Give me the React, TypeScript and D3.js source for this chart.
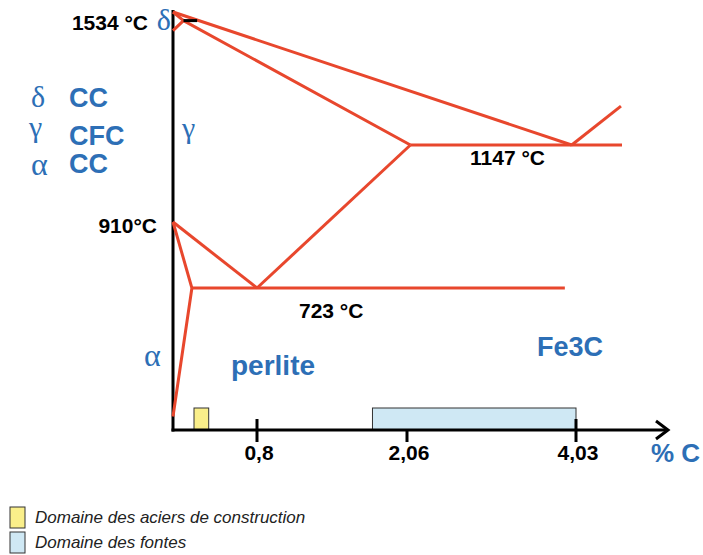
import * as React from 'react';
import * as d3 from 'd3';

// schematic Fe-C diagram ([%C, °C])
const tickValues = [0.8, 2.06, 4.03];
const tickLabels = ['0,8', '2,06', '4,03'];

const liquidus = [[0, 1534], [3.98, 1147]];
const deltaSolidus = [[0, 1534], [0.1, 1509]];
const gammaSolidus = [[0, 1480], [0.1, 1509], [2.1, 1147]];
const peritectic = [[0.1, 1509], [0.23, 1509]];
const eutectic = [[2.1, 1147], [5.35, 1147]];
const cementiteLiquidus = [[3.98, 1147], [5.32, 1260]];
const acm = [[2.1, 1147], [0.8, 723]];
const a3 = [[0, 910], [0.8, 723]];
const alphaBoundary = [[0, 910], [0.18, 723], [0, 340]];
const eutectoid = [[0.18, 723], [3.9, 723]];

const redLines = [liquidus, deltaSolidus, gammaSolidus, eutectic, cementiteLiquidus, acm, a3, alphaBoundary, eutectoid];

const steelDomain = [0.2, 0.34];
const castIronDomain = [1.77, 4.03];

const legendItems = ['Domaine des aciers de construction', 'Domaine des fontes'];

const red = '#e8472d';
const blue = '#2d6fb6';
const sans = '"Liberation Sans", Arial, sans-serif';
const serif = '"Liberation Serif", "Times New Roman", serif';

export default function App() {
  const width = 703;
  const height = 555;

  // piecewise scales: the diagram is not drawn to scale
  const x = d3.scaleLinear().domain([0, 0.8, 2.06, 4.03, 6.67]).range([173, 257, 407, 576, 668]);
  const y = d3.scaleLinear().domain([1534, 1147, 910, 723, 300]).range([12, 145, 222, 288, 430]);

  const line = d3.line<number[]>().x(d => x(d[0])).y(d => y(d[1]));

  const x0 = x(0);
  const yBase = y(300);
  const boxTop = yBase - 22;

  const bold = (size: number) => ({ fontFamily: sans, fontWeight: 700, fontSize: size });
  const greek = (size: number) => ({ fontFamily: serif, fontSize: size });

  return <div style={{ position: 'absolute', left: 0, top: 0 }}>
    <svg width={width} height={height}>
      {/* domains */}
      <rect x={x(steelDomain[0])} y={boxTop} width={x(steelDomain[1]) - x(steelDomain[0])} height={yBase - boxTop}
        fill="#faef8a" stroke="#333" strokeWidth={1} />
      <rect x={x(castIronDomain[0])} y={boxTop} width={x(castIronDomain[1]) - x(castIronDomain[0])} height={yBase - boxTop}
        fill="#cfe8f4" stroke="#333" strokeWidth={1} />

      {/* axes */}
      <line x1={x0} x2={x0} y1={10} y2={yBase + 1.5} stroke="#000" strokeWidth={3} />
      <line x1={x0 - 1.5} x2={x(6.67)} y1={yBase} y2={yBase} stroke="#000" strokeWidth={3} />
      <polyline points={`${x(6.67) - 12},${yBase - 9} ${x(6.67)},${yBase} ${x(6.67) - 12},${yBase + 9}`}
        fill="none" stroke="#000" strokeWidth={3} />
      {tickValues.map((t, i) => <g key={t}>
        <line x1={x(t)} x2={x(t)} y1={i === 1 ? yBase : yBase - 11} y2={yBase + 12} stroke="#000" strokeWidth={3} />
        <text x={x(t) + 2} y={yBase + 30} textAnchor="middle" style={bold(21)}>{tickLabels[i]}</text>
      </g>)}

      {/* phase boundaries */}
      {redLines.map((l, i) => <path key={i} d={line(l) || ''} fill="none" stroke={red} strokeWidth={3} />)}
      <path d={line(peritectic) || ''} stroke="#000" strokeWidth={3} />

      {/* temperatures */}
      <text x={148} y={30} textAnchor="end" style={bold(21)}>1534 °C</text>
      <text x={157} y={233} textAnchor="end" style={bold(21)}>910°C</text>
      <text x={470} y={165} style={bold(21)}>1147 °C</text>
      <text x={299} y={318} style={bold(21)}>723 °C</text>

      {/* phases */}
      <text x={171} y={30} textAnchor="end" fill={blue} style={greek(30)}>δ</text>
      <text x={182} y={138} fill={blue} style={greek(30)}>γ</text>
      <text x={144} y={366} fill={blue} style={greek(32)}>α</text>

      <text x={31} y={107} fill={blue} style={greek(30)}>δ</text>
      <text x={29} y={137} fill={blue} style={greek(30)}>γ</text>
      <text x={31} y={175} fill={blue} style={greek(32)}>α</text>
      <text x={69} y={107} fill={blue} style={bold(27)}>CC</text>
      <text x={69} y={145} fill={blue} style={bold(27)}>CFC</text>
      <text x={69} y={173} fill={blue} style={bold(27)}>CC</text>

      <text x={231} y={375} fill={blue} style={bold(28)}>perlite</text>
      <text x={537} y={356} fill={blue} style={bold(27)}>Fe3C</text>
      <text x={651} y={462} fill={blue} style={bold(26)}>% C</text>

      {/* legend */}
      {legendItems.map((label, i) => <g key={label} transform={`translate(10, ${507 + i * 25})`}>
        <rect x={0} y={0} width={15} height={21} fill={i === 0 ? '#faef8a' : '#cfe8f4'} stroke="#333" strokeWidth={1} />
        <text x={25} y={16} fill="#222" style={{ fontFamily: sans, fontStyle: 'italic', fontSize: 17 }}>{label}</text>
      </g>)}
    </svg>
  </div>;
}
